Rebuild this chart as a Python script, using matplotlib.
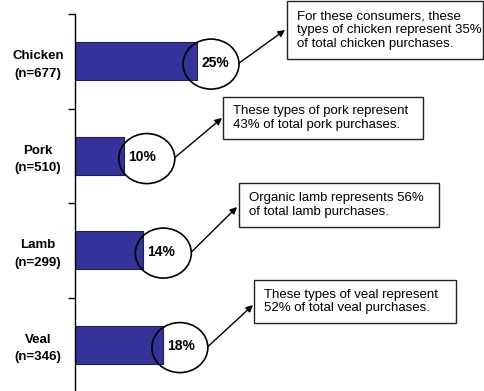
import matplotlib.pyplot as plt
from matplotlib.patches import Ellipse, Rectangle

plt.rcParams["font.family"] = ["Liberation Sans", "DejaVu Sans"]

# ---- data ----
meats = ["Chicken", "Pork", "Lamb", "Veal"]
sample_n = [677, 510, 299, 346]
share_pct = [25, 10, 14, 18]
notes = [
    "For these consumers, these\ntypes of chicken represent 35%\nof total chicken purchases.",
    "These types of pork represent\n43% of total pork purchases.",
    "Organic lamb represents 56%\nof total lamb purchases.",
    "These types of veal represent\n52% of total veal purchases.",
]

# ---- layout (pixels) ----
W, H, DPI = 484, 391, 100
AX_LEFT, AX_TOP = 75, 14
PX_PER_PCT = 4.88
ring_dx = [14, 23, 20, 17]          # ring centre offset past bar end
label_dx = 18                       # % label offset past bar end
ring_w, ring_h = 56, 50
# note boxes: left, top, width, height
boxes = [(287, 1, 196, 58), (223, 97, 200, 42), (239, 183, 200, 44), (254, 280, 202, 43)]
arrow_tips = [(285, 30), (222, 118), (237, 207), (253, 305)]

fig = plt.figure(figsize=(W / DPI, H / DPI), dpi=DPI)
ax_h = (H + 1 - AX_TOP) / H
ax = fig.add_axes([AX_LEFT / W, -1 / H, (W - AX_LEFT) / W, ax_h])
xmax = (W - AX_LEFT) / PX_PER_PCT
ax.set_xlim(0, xmax)
ax.set_ylim(len(meats) - 0.5, -0.5)

ypos = list(range(len(meats)))
ax.barh(ypos, share_pct, height=0.4, color="#333399", edgecolor="#222244", linewidth=0.8)

# axis: left spine only, ticks on the category boundaries
for s in ["top", "right", "bottom"]:
    ax.spines[s].set_visible(False)
ax.spines["left"].set_linewidth(1.0)
ax.set_xticks([])
ax.set_yticks([i - 0.5 for i in range(len(meats) + 1)])
ax.set_yticklabels([])
ax.tick_params(axis="y", direction="out", length=5, width=1.0)

ppx = xmax / (W - AX_LEFT)          # data units per pixel, x
ppy = len(meats) / (H + 1 - AX_TOP)  # data units per pixel, y

for i, (name, n, v) in enumerate(zip(meats, sample_n, share_pct)):
    ax.text(-37 * ppx, i + 0.04, f"{name}\n(n={n})", ha="center", va="center",
            fontsize=9.5, fontweight="bold", linespacing=1.65, clip_on=False)
    cx = v + ring_dx[i] * ppx
    ax.add_patch(Ellipse((cx, i + 0.03), ring_w * ppx, ring_h * ppy,
                         fill=False, edgecolor="black", linewidth=1.2, clip_on=False))
    ax.text(v + label_dx * ppx, i + 0.015, f"{v}%", ha="center", va="center",
            fontsize=10, fontweight="bold")

    # note box in figure pixels (top-left origin)
    bl, bt, bw, bh = boxes[i]
    fig.patches.append(Rectangle((bl / W, 1 - (bt + bh) / H), bw / W, bh / H,
                                 transform=fig.transFigure, fill=True, facecolor="white",
                                 edgecolor="#222222", linewidth=1.0))
    fig.text((bl + 10) / W, 1 - (bt + bh / 2) / H, notes[i], ha="left", va="center",
             fontsize=9.5, linespacing=1.17)

    tx, ty = arrow_tips[i]
    ax.annotate("", xy=(tx, H - ty), xycoords="figure pixels",
                xytext=(cx + ring_w / 2 * ppx, i + 0.02), textcoords="data",
                arrowprops=dict(arrowstyle="-|>", color="black", lw=1.0,
                                shrinkA=0, shrinkB=0, mutation_scale=10))

fig.savefig("out.png", dpi=DPI)
